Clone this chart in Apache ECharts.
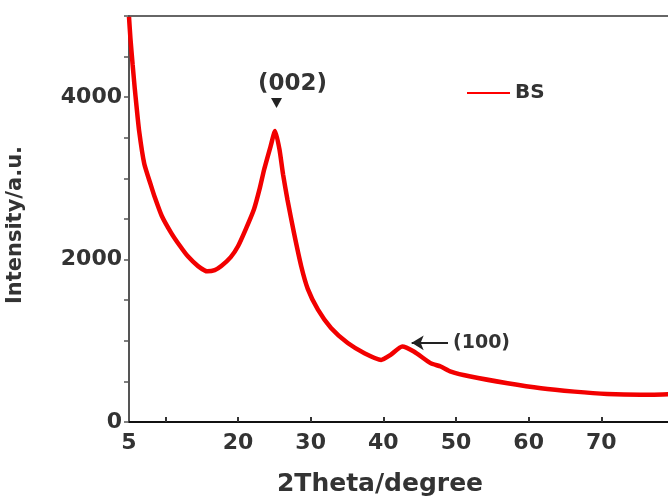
<!DOCTYPE html>
<html>
<head>
<meta charset="utf-8">
<script src="https://cdn.jsdelivr.net/npm/echarts@6/dist/echarts.min.js"></script>
<style>
  html, body { margin: 0; padding: 0; background: #fff; }
  #chart { width: 668px; height: 501px; }
</style>
</head>
<body>
<div id="chart"></div>
<script>
// XRD pattern of sample BS: diffraction angle (2θ, degrees) and intensity (a.u.)
const twoTheta = [5.0, 5.2, 5.5, 5.8, 6.0, 6.4, 7.1, 8.0, 8.5, 9.5, 10.8, 12.0, 13.1, 14.5, 15.8,
  16.8, 17.7, 19.0, 20.0, 21.0, 22.2, 23.0, 23.6, 24.5, 25.1, 25.7, 26.2, 26.8, 27.7, 28.7,
  29.6, 31.0, 32.8, 35.1, 37.4, 39.7, 41.0, 42.6, 44.2, 46.5, 47.9, 49.3, 52.0, 57.1, 61.7,
  66.3, 70.8, 75.4, 80.0];
const intensity = [4990, 4720, 4400, 4100, 3920, 3580, 3180, 2920, 2780, 2540, 2330, 2170, 2040, 1920, 1855,
  1870, 1920, 2030, 2165, 2360, 2620, 2880, 3110, 3400, 3585, 3360, 3050, 2740, 2330, 1918,
  1640, 1383, 1157, 972, 848, 765, 827, 930, 868, 725, 683, 621, 560, 477, 415,
  374, 345, 335, 345];

const xLabelValues = [5, 20, 30, 40, 50, 60, 70];
const xTickValues = [10, 20, 30, 40, 50, 60, 70, 80];
const yLabelValues = [0, 2000, 4000];
const yTickValues = [0, 500, 1000, 1500, 2000, 2500, 3000, 3500, 4000, 4500, 5000];

const seriesName = 'BS';
const peak002 = { label: '(002)', angle: 25.3, value: 3930 };
const peak100 = { label: '(100)', angle: 43.9, value: 975 };

const FONT = 'DejaVu Sans';
const TEXT = '#333';

const points = twoTheta.map((t, i) => [t, intensity[i]]);

const chart = echarts.init(document.getElementById('chart'), null, { renderer: 'canvas' });

chart.setOption({
  backgroundColor: '#fff',
  animation: false,
  grid: {
    left: 129, top: 16, width: 545, bottom: 79,
    outerBoundsMode: 'none', containLabel: false,
    show: true, borderColor: '#666', borderWidth: 2, backgroundColor: 'transparent'
  },
  legend: {
    data: [seriesName],
    left: 462, top: 78,
    icon: 'rect',
    itemWidth: 43, itemHeight: 2, itemGap: 0,
    textStyle: { fontFamily: FONT, fontWeight: 'bold', fontSize: 20, color: TEXT, padding: [0, 0, 0, 0] }
  },
  xAxis: {
    type: 'value', min: 5, max: 80,
    splitLine: { show: false },
    axisLine: { lineStyle: { color: '#111', width: 2 } },
    axisTick: { show: true, customValues: xTickValues, length: 5, inside: true, lineStyle: { color: '#333', width: 2 } },
    axisLabel: {
      customValues: xLabelValues, margin: 10,
      formatter: v => String(v),
      fontFamily: FONT, fontWeight: 'bold', fontSize: 22, color: TEXT
    }
  },
  yAxis: {
    type: 'value', min: 0, max: 5000,
    splitLine: { show: false },
    axisLine: { lineStyle: { color: '#555', width: 2 } },
    axisTick: { show: true, customValues: yTickValues, length: 5, lineStyle: { color: '#555', width: 1.5 } },
    axisLabel: {
      customValues: yLabelValues, margin: 7,
      formatter: v => String(v),
      fontFamily: FONT, fontWeight: 'bold', fontSize: 22, color: TEXT
    }
  },
  graphic: [
    {
      type: 'text', x: 380, y: 484,
      style: { text: '2Theta/degree', font: 'bold 25px "DejaVu Sans"', fill: TEXT, align: 'center', verticalAlign: 'middle' }
    },
    {
      type: 'text', x: 16, y: 225, rotation: Math.PI / 2,
      style: { text: 'Intensity/a.u.', font: 'bold 21px "DejaVu Sans"', fill: TEXT, align: 'center', verticalAlign: 'middle' }
    }
  ],
  series: [{
    name: seriesName,
    type: 'line',
    data: points,
    symbol: 'none',
    smooth: 0.2,
    color: '#ff0000',
    lineStyle: { color: '#f20000', width: 4.5 },
    markPoint: {
      symbol: 'triangle', symbolRotate: 180, symbolSize: [11, 10],
      itemStyle: { color: '#222' },
      label: {
        show: true, position: 'top', distance: 2, offset: [16, 0],
        formatter: p => p.name,
        fontFamily: FONT, fontWeight: 'bold', fontSize: 23, color: TEXT
      },
      data: [{ name: peak002.label, coord: [peak002.angle, peak002.value] }]
    },
    markLine: {
      silent: true,
      symbol: ['none', 'arrow'], symbolSize: [11, 12],
      lineStyle: { color: '#222', width: 2, type: 'solid' },
      label: {
        show: true, position: 'start', distance: 5,
        formatter: peak100.label,
        fontFamily: FONT, fontWeight: 'bold', fontSize: 19, color: TEXT
      },
      data: [[
        { coord: [peak100.angle + 5.0, peak100.value] },
        { coord: [peak100.angle, peak100.value] }
      ]]
    }
  }]
});
</script>
</body>
</html>
